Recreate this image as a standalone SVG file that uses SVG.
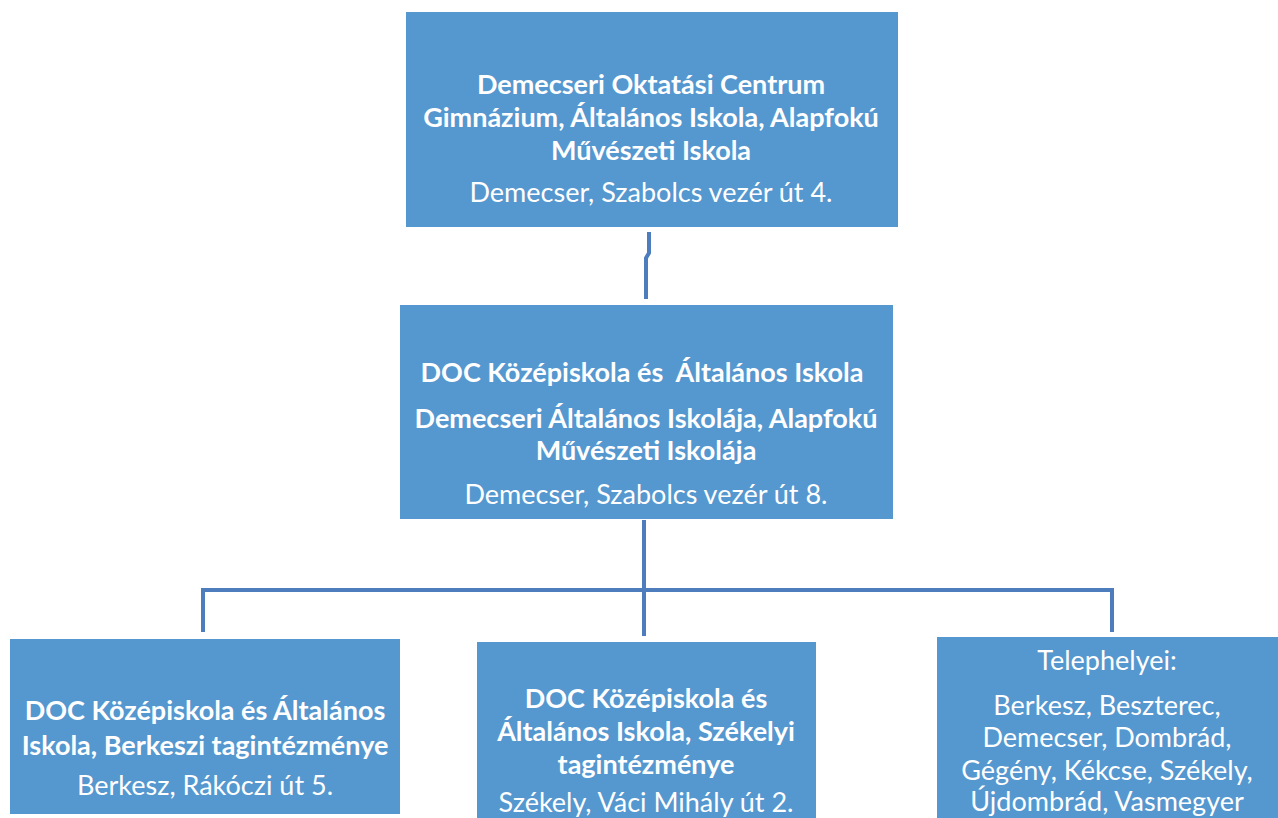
<svg xmlns="http://www.w3.org/2000/svg" width="1278" height="818" viewBox="0 0 1278 818">
<style>
.box{fill:#5597cf;}
.t{font-family:Lato,"Open Sans","Liberation Sans",sans-serif;fill:#ffffff;text-anchor:middle;}
.b{font-weight:bold;font-size:27px;}
.r{font-size:27px;}
.pre{white-space:pre;}
.c{fill:none;stroke:#4e7dbd;stroke-width:4;}
</style>
<rect width="1278" height="818" fill="#ffffff"/>
<g id="connectors">
<path class="c" d="M649 232 V253 L646 258 V299"/>
<path class="c" d="M644 520 V636"/>
<path class="c" d="M203 632 V590 H1112 V632"/>
</g>
<g id="n-top">
<rect class="box" x="406" y="12" width="492" height="215"/>
<text class="t b" x="651" y="94">Demecseri Oktatási Centrum</text>
<text class="t b" x="651" y="127">Gimnázium, Általános Iskola, Alapfokú</text>
<text class="t b" x="651" y="160">Művészeti Iskola</text>
<text class="t r" x="651" y="202">Demecser, Szabolcs vezér út 4.</text>
</g>
<g id="n-mid">
<rect class="box" x="400" y="305" width="493" height="214"/>
<text class="t b pre" x="642" y="382" xml:space="preserve">DOC Középiskola és  Általános Iskola</text>
<text class="t b" x="646" y="428">Demecseri Általános Iskolája, Alapfokú</text>
<text class="t b" x="646" y="460">Művészeti Iskolája</text>
<text class="t r" x="646" y="504">Demecser, Szabolcs vezér út 8.</text>
</g>
<g id="n-berkesz">
<rect class="box" x="10" y="639" width="390" height="175"/>
<text class="t b" x="205" y="720">DOC Középiskola és Általános</text>
<text class="t b" x="205" y="755">Iskola, Berkeszi tagintézménye</text>
<text class="t r" x="205" y="795">Berkesz, Rákóczi út 5.</text>
</g>
<g id="n-szekely">
<rect class="box" x="477" y="642" width="339" height="180"/>
<text class="t b" x="646" y="708">DOC Középiskola és</text>
<text class="t b" x="646" y="741">Általános Iskola, Székelyi</text>
<text class="t b" x="646" y="774">tagintézménye</text>
<text class="t r" x="646" y="812">Székely, Váci Mihály út 2.</text>
</g>
<g id="n-telephelyei">
<rect class="box" x="937" y="637" width="345" height="185"/>
<text class="t r" x="1107" y="670">Telephelyei:</text>
<text class="t r" x="1107" y="715">Berkesz, Beszterec,</text>
<text class="t r" x="1107" y="747">Demecser, Dombrád,</text>
<text class="t r" x="1107" y="780">Gégény, Kékcse, Székely,</text>
<text class="t r" x="1107" y="811">Újdombrád, Vasmegyer</text>
</g>
</svg>
